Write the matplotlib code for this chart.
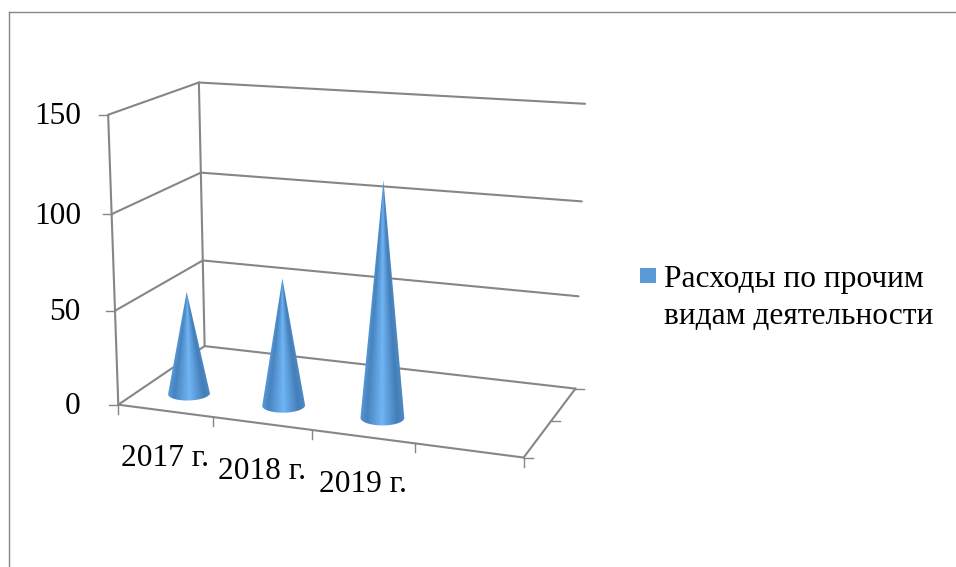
import numpy as np
import matplotlib
matplotlib.use("Agg")
import matplotlib.pyplot as plt
from matplotlib.colors import LinearSegmentedColormap
from matplotlib.patches import Polygon, Rectangle

categories = ["2017 г.", "2018 г.", "2019 г."]
values = [55, 67, 121]
value_ticks = [0, 50, 100, 150]
legend_lines = ["Расходы по прочим", "видам деятельности"]
n_slots = 4

GRID = "#868686"
FONT = 22.6
plt.rcParams["font.family"] = ["Liberation Serif", "DejaVu Serif"]

# box corners (slot, depth, value) and where they land on the canvas
box_world = np.array([
    [0, 0, 0], [n_slots, 0, 0], [n_slots, 1, 0], [0, 1, 0],
    [0, 0, 150], [n_slots, 1, 150], [0, 1, 150],
], dtype=float)
box_canvas = np.array([
    [119, 405], [523, 458], [576, 388], [204, 346],
    [108, 114], [585, 104], [199, 83],
], dtype=float)


def fit_camera(world, canvas):
    rows = []
    for (x, y, z), (px, py) in zip(world, canvas):
        rows.append([x, y, z, 1, 0, 0, 0, 0, -px * x, -px * y, -px * z, -px])
        rows.append([0, 0, 0, 0, x, y, z, 1, -py * x, -py * y, -py * z, -py])
    return np.linalg.svd(np.array(rows))[2][-1].reshape(3, 4)


camera = fit_camera(box_world, box_canvas)


def proj(u, v, w):
    u, v, w = np.broadcast_arrays(u, v, w)
    pts = np.stack([u, v, w, np.ones_like(u)], axis=-1).astype(float)
    out = pts @ camera.T
    return out[..., :2] / out[..., 2:]


def edge(ax, a, b):
    pa, pb = proj(*a), proj(*b)
    ax.plot([pa[0], pb[0]], [pa[1], pb[1]], color=GRID, lw=1.5, solid_capstyle="round", zorder=1)


def tick(ax, p, dx, dy):
    ax.plot([p[0], p[0] + dx], [p[1], p[1] + dy], color=GRID, lw=1.0, zorder=1)


cone_cmap = LinearSegmentedColormap.from_list("cone", [
    (0.0, "#5598d8"), (0.15, "#4783bf"), (0.5, "#70b5f5"),
    (0.85, "#447eb8"), (1.0, "#4c8ac4"),
])


def draw_cone(ax, slot, depth, value):
    ang = np.linspace(0, 2 * np.pi, 181)
    base = proj(slot + 0.205 * np.cos(ang), depth + 0.105 * np.sin(ang), 0 * ang)
    center = proj(slot, depth, 0)
    tip = proj(slot, depth, value)
    left, right = base[:, 0].min(), base[:, 0].max()
    low = base[:, 1].max()

    # silhouette: tip plus the near half of the base ring
    near = base[base[:, 1] >= center[1]]
    near = near[np.argsort(near[:, 0])]
    outline = np.vstack([tip, near])
    patch = Polygon(outline, closed=True, facecolor="none", edgecolor="none")
    ax.add_patch(patch)

    # shading runs across the cone, narrowing with it towards the tip
    xs = np.linspace(left - 1, right + 1, 160)
    ys = np.linspace(tip[1] - 1, low + 1, 400)
    xx, yy = np.meshgrid(xs, ys)
    frac = np.clip((yy - tip[1]) / (center[1] - tip[1]), 0.004, 1)
    xmid = tip[0] + (center[0] - tip[0]) * frac
    half = 0.5 * (right - left) * frac
    shade = np.clip(0.5 + 0.5 * (xx - xmid) / half, 0, 1)
    im = ax.imshow(shade, cmap=cone_cmap, vmin=0, vmax=1, aspect="auto",
                   extent=[xs[0], xs[-1], ys[-1], ys[0]], interpolation="bilinear", zorder=3)
    im.set_clip_path(patch)


fig = plt.figure(figsize=(9.56, 5.67), dpi=100)
ax = fig.add_axes([0, 0, 1, 1])
ax.axis("off")

# chart area border, runs off the right and bottom of the canvas
ax.plot([9.5, 9.5], [567, 11.5], color=GRID, lw=1.0)
ax.plot([9.5, 956], [11.5, 11.5], color=GRID, lw=1.0)

# walls and floor
for w in value_ticks:
    edge(ax, (0, 0, w), (0, 1, w))
    edge(ax, (0, 1, w), (n_slots, 1, w))
edge(ax, (0, 0, 0), (0, 0, 150))
edge(ax, (0, 1, 0), (0, 1, 150))
edge(ax, (0, 0, 0), (n_slots, 0, 0))
edge(ax, (n_slots, 0, 0), (n_slots, 1, 0))

# axis ticks
for w in value_ticks:
    p = proj(0, 0, w)
    tick(ax, p, -9, 0)
    ax.text(81, p[1] + 2, str(w), fontsize=FONT, ha="right", va="center", color="black")
for s in range(n_slots + 1):
    tick(ax, proj(s, 0, 0), 0, 9)
for d in [0, 0.5, 1]:
    tick(ax, proj(n_slots, d, 0), 9, 0)

for i, (name, val) in enumerate(zip(categories, values)):
    draw_cone(ax, i + 0.5, 0.27, val)
    p = proj(i + 0.5, 0, 0)
    ax.text(p[0], p[1] + 48, name, fontsize=FONT, ha="center", va="center", color="black")

# legend
ax.add_patch(Rectangle((640, 268), 16, 15, facecolor="#5b9bd5", edgecolor="none"))
for line, y in zip(legend_lines, [279, 317]):
    ax.text(664, y, line, fontsize=FONT, ha="left", va="center", color="black")

ax.set_xlim(0, 956)
ax.set_ylim(567, 0)

fig.savefig("out.png", dpi=100)
